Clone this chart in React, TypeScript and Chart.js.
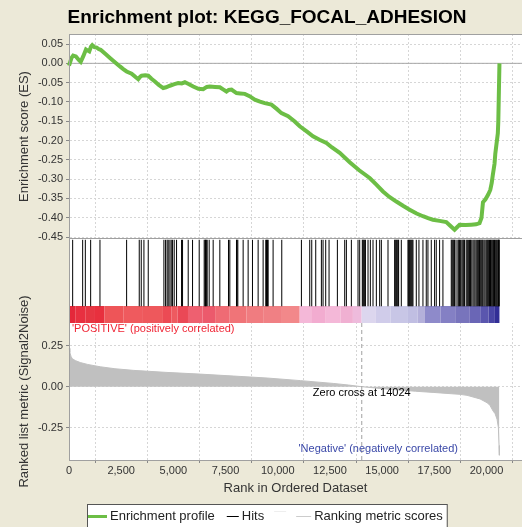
import React, { useEffect, useRef } from "react";
import { Chart, registerables } from "chart.js";

Chart.register(...registerables);

// ---------- data ----------
const TITLE = "Enrichment plot: KEGG_FOCAL_ADHESION";
const X_TITLE = "Rank in Ordered Dataset";
const ES_TITLE = "Enrichment score (ES)";
const METRIC_TITLE = "Ranked list metric (Signal2Noise)";
const POS_LABEL = "'POSITIVE' (positively correlated)";
const NEG_LABEL = "'Negative' (negatively correlated)";
const ZERO_CROSS = 14024;
const ZERO_LABEL = "Zero cross at " + ZERO_CROSS;
const legendLabels = ["Enrichment profile", "Hits", "", "Ranking metric scores"];

const esRanks = [
  0, 60, 120, 200, 330, 480, 560, 680, 813, 900, 970, 1050, 1115, 1220, 1325, 1420, 1516,
  1750, 1962, 2200, 2440, 2600, 2760, 3000, 3200, 3317, 3420, 3478, 3650, 3796, 3950, 4115,
  4300, 4513, 4650, 4833, 5050, 5232, 5400, 5551, 5750, 5950, 6200, 6428, 6600, 6747, 7000,
  7225, 7400, 7545, 7650, 7785, 8024, 8200, 8422, 8650, 8900, 9150, 9379, 9698, 9950, 10177,
  10496, 10800, 11053, 11400, 11690, 12000, 12330, 12600, 12968, 13446, 13900, 14403, 14700,
  15040, 15350, 15680, 16000, 16317, 16650, 16954, 17200, 17432, 17750, 18072, 18250, 18470,
  18600, 18709, 19000, 19268, 19500, 19666, 19760, 19830, 19950, 20080, 20180, 20250, 20300,
  20384, 20420, 20465, 20542, 20565, 20620,
];
const esValues = [
  -0.006, 0.004, 0.014, 0.02, 0.018, 0.008, 0.004, 0.018, 0.036, 0.033, 0.031, 0.043, 0.047,
  0.042, 0.041, 0.037, 0.035, 0.024, 0.014, 0.003, -0.008, -0.015, -0.021, -0.027, -0.036,
  -0.041, -0.034, -0.032, -0.031, -0.032, -0.04, -0.047, -0.056, -0.064, -0.062, -0.058,
  -0.054, -0.051, -0.052, -0.049, -0.054, -0.06, -0.066, -0.067, -0.061, -0.06, -0.061,
  -0.062, -0.068, -0.073, -0.069, -0.068, -0.077, -0.078, -0.079, -0.085, -0.094, -0.099,
  -0.103, -0.107, -0.118, -0.129, -0.137, -0.15, -0.163, -0.177, -0.189, -0.198, -0.206,
  -0.218, -0.232, -0.256, -0.277, -0.297, -0.313, -0.332, -0.346, -0.358, -0.369, -0.379,
  -0.389, -0.396, -0.401, -0.405, -0.408, -0.411, -0.42, -0.431, -0.424, -0.418, -0.419,
  -0.418, -0.417, -0.414, -0.4, -0.36, -0.352, -0.34, -0.328, -0.31, -0.29, -0.26, -0.235,
  -0.215, -0.181, -0.15, 0.0,
];

const hitRanks = [
  175, 654, 782, 1037, 1483, 2760, 3365, 3461, 3589, 3796, 4546, 4626, 4700, 4753, 4833, 4897,
  4961, 5040, 5152, 5391, 5439, 5710, 5918, 6237, 6476, 6520, 6540, 6580, 6619, 6715, 6906,
  7225, 7640, 7704, 8023, 8050, 8087, 8342, 8581, 8789, 9060, 9299, 9426, 9460, 9506, 9540,
  9777, 10192, 11133, 11532, 11628, 11819, 12090, 12170, 12297, 12457, 12856, 13207, 13287,
  13526, 13845, 13925, 14050, 14084, 14120, 14164, 14200, 14324, 14435, 14563, 14723, 14882,
  14962, 15281, 15600, 15630, 15680, 15720, 15760, 15790, 15918, 16237, 16270, 16317, 16350,
  16397, 16440, 16477, 16636, 16763, 16955, 17114, 17194, 17354, 17513, 17593, 17752, 17912,
  18311, 18350, 18390, 18430, 18470, 18540, 18630, 18670, 18709, 18760, 18820, 18869, 18910,
  18949, 19028, 19080, 19130, 19188, 19230, 19268, 19347, 19400, 19450, 19507, 19560, 19610,
  19666, 19700, 19746, 19790, 19826, 19880, 19930, 19986, 20030, 20065, 20105, 20145, 20190,
  20225, 20265, 20304, 20340, 20384, 20420, 20464, 20500, 20543, 20570, 20592, 20610,
];

const metricRanks = [
  0, 40, 100, 153, 300, 536, 900, 1494, 2200, 3074, 4600, 6283, 7900, 9492, 11100, 12653,
  13400, 14024, 15000, 15800, 16600, 17440, 18300, 18730, 19068, 19690, 20050, 20170, 20320,
  20410, 20505, 20568, 20600, 20615,
];
const metricValues = [
  0.235, 0.21, 0.185, 0.172, 0.16, 0.148, 0.136, 0.122, 0.11, 0.1, 0.088, 0.077, 0.065, 0.053,
  0.037, 0.02, 0.01, 0.0, -0.012, -0.02, -0.028, -0.035, -0.043, -0.047, -0.053, -0.075,
  -0.1, -0.116, -0.15, -0.165, -0.2, -0.25, -0.36, -0.42,
];

// colour bar: segment start ranks (last value = end of the bar)
const colorBarRanks = [
  0, 300, 800, 1200, 1700, 2600, 3500, 4500, 4900, 5200, 5700, 6400, 7000, 7700, 8500, 9300,
  10200, 11050, 11600, 12300, 13000, 13600, 14020, 14700, 15400, 16200, 16700, 17050, 17800,
  18500, 19200, 19700, 20100, 20400, 20620,
];
const colorBarColors = [
  "#E4283A", "#E83040", "#E63642", "#E8303E", "#EE5558", "#EF5A5E", "#EE585C", "#EC4A54",
  "#EE5A60", "#EA4856", "#EE6070", "#EC5A6C", "#EF6B74", "#F07478", "#F07C80", "#F08084",
  "#F2888A", "#F4B8D8", "#F2ACD0", "#F4B8D8", "#F0B0D2", "#EEBBDC", "#DCD6EE", "#D0CCEA",
  "#C8C6E6", "#C0BEE2", "#B4B0DA", "#8E8ACA", "#8480C4", "#7874BC", "#6A66B6", "#5A56AE",
  "#4844A4", "#322E96",
];

const X_MAX = 21700;
const X_STEP = 2500;
const ES_MIN = -0.455;
const ES_MAX = 0.076;
const ES_STEP = 0.05;
const METRIC_MIN = -0.449;
const METRIC_MAX = 0.39;
const METRIC_STEP = 0.25;

// ---------- styles ----------
const FONT = "'Liberation Sans', Arial, Helvetica, sans-serif";
const BEIGE = "#ECE9D8";
const GREEN = "#6CBE45";
const GRID = "#D6D6D6";
const AXIS = "#A0A0A0";
const TEXT = "#333333";

const legendSampleColors = [GREEN, "#000000", "#EEEEEE", "#CCCCCC"];
const legendSampleWidths = [19, 12, 12, 15];
const legendSampleLine = [3, 1, 1, 1];
const legendGapsBefore = [1, 12, 10, 10];

const panelPlugin = {
  id: "panels",
  beforeDraw(chart: any) {
    const { ctx, chartArea } = chart;
    ctx.save();
    ctx.fillStyle = BEIGE;
    ctx.fillRect(0, 0, chart.width, chart.height);
    ctx.fillStyle = "#ffffff";
    ctx.fillRect(chartArea.left, chartArea.top, chartArea.right - chartArea.left, chartArea.bottom - chartArea.top);
    ctx.restore();
  },
  beforeDatasetsDraw(chart: any) {
    const { ctx, chartArea } = chart;
    const h = chart.scales.yHits;
    ctx.save();
    ctx.fillStyle = "#ffffff";
    ctx.fillRect(chartArea.left, h.top, chartArea.right - chartArea.left, h.bottom - h.top);
    ctx.restore();
  },
  afterDatasetsDraw(chart: any) {
    const { ctx, chartArea } = chart;
    const x = chart.scales.x;
    const m = chart.scales.yMetric;
    ctx.save();
    ctx.font = "11px " + FONT;
    ctx.textBaseline = "middle";
    ctx.fillStyle = "#F02535";
    ctx.textAlign = "left";
    ctx.fillText(POS_LABEL, x.getPixelForValue(0) + 3, m.top + 6);
    ctx.fillStyle = "#000000";
    ctx.textAlign = "center";
    ctx.fillText(ZERO_LABEL, x.getPixelForValue(ZERO_CROSS), m.getPixelForValue(0) + 6);
    ctx.fillStyle = "#3A48A8";
    ctx.textAlign = "right";
    ctx.fillText(NEG_LABEL, chartArea.right - 64, m.bottom - 11);
    ctx.restore();
  },
  afterDraw(chart: any) {
    const { ctx, chartArea } = chart;
    const es = chart.scales.yES;
    ctx.save();
    ctx.strokeStyle = AXIS;
    ctx.lineWidth = 1;
    ctx.beginPath();
    ctx.moveTo(chartArea.left, es.top + 0.5);
    ctx.lineTo(chartArea.right, es.top + 0.5);
    ctx.moveTo(chartArea.left, es.bottom - 0.5);
    ctx.lineTo(chartArea.right, es.bottom - 0.5);
    ctx.moveTo(chartArea.left + 0.5, chartArea.top);
    ctx.lineTo(chartArea.left + 0.5, chartArea.bottom);
    ctx.stroke();

    // legend
    ctx.font = "13px " + FONT;
    const widths = legendLabels.map((l) => (l ? ctx.measureText(l).width : 0));
    let total = 0;
    legendLabels.forEach((l, i) => {
      total += legendGapsBefore[i] + legendSampleWidths[i] + (l ? 3 + widths[i] : 0);
    });
    total += 4;
    const bx = Math.round(chart.width / 2 + 6 - total / 2);
    const by = 504;
    ctx.fillStyle = "#ffffff";
    ctx.fillRect(bx, by, total, 40);
    ctx.strokeStyle = "#555555";
    ctx.strokeRect(bx + 0.5, by + 0.5, total, 40);
    let cx = bx;
    const cy = by + 12;
    legendLabels.forEach((l, i) => {
      cx += legendGapsBefore[i];
      ctx.strokeStyle = legendSampleColors[i];
      ctx.lineWidth = legendSampleLine[i];
      const ly = l ? cy : cy - 5;
      ctx.beginPath();
      ctx.moveTo(cx, ly + (legendSampleLine[i] % 2 ? 0.5 : 0));
      ctx.lineTo(cx + legendSampleWidths[i], ly + (legendSampleLine[i] % 2 ? 0.5 : 0));
      ctx.stroke();
      cx += legendSampleWidths[i];
      if (l) {
        cx += 3;
        ctx.fillStyle = "#222222";
        ctx.textAlign = "left";
        ctx.textBaseline = "middle";
        ctx.fillText(l, cx, cy);
        cx += widths[i];
      }
    });
    ctx.restore();
  },
};

export default function App() {
  const ref = useRef<HTMLCanvasElement | null>(null);

  useEffect(() => {
    if (!ref.current) return;
    Chart.defaults.font.family = FONT;
    const esData = esRanks.map((r, i) => ({ x: r, y: esValues[i] }));
    const metricData = metricRanks.map((r, i) => ({ x: r, y: metricValues[i] }));
    const hitData = hitRanks.map((r) => ({ x: r, y: [0.2, 0.99] }));
    const barData = colorBarRanks.map((r) => ({ x: r, y: 0.1 }));

    const yTickFont = { size: 11, family: FONT };

    const chart = new Chart(ref.current, {
      type: "line",
      data: {
        datasets: [
          {
            type: "line",
            label: legendLabels[0],
            data: esData,
            yAxisID: "yES",
            borderColor: GREEN,
            borderWidth: 4,
            pointRadius: 0,
            tension: 0,
            fill: false,
          },
          {
            type: "line",
            label: "zero",
            data: [{ x: 0, y: 0 }, { x: X_MAX, y: 0 }],
            yAxisID: "yES",
            borderColor: "#A8A8A8",
            borderWidth: 1,
            pointRadius: 0,
            fill: false,
          },
          {
            type: "bar",
            label: legendLabels[1],
            data: hitData as any,
            yAxisID: "yHits",
            backgroundColor: "#000000",
            borderWidth: 0,
            barThickness: 1,
            grouped: false,
            inflateAmount: 0,
          } as any,
          {
            type: "line",
            label: "colorbar",
            data: barData,
            yAxisID: "yHits",
            borderColor: colorBarColors[0],
            borderWidth: 17,
            borderCapStyle: "butt",
            pointRadius: 0,
            fill: false,
            segment: {
              borderColor: (c: any) => colorBarColors[c.p0DataIndex],
            },
          } as any,
          {
            type: "line",
            label: "zerocross",
            data: [{ x: ZERO_CROSS, y: METRIC_MAX }, { x: ZERO_CROSS, y: METRIC_MIN }],
            yAxisID: "yMetric",
            borderColor: "#A0A0A0",
            borderWidth: 1,
            borderDash: [4, 3],
            pointRadius: 0,
            fill: false,
          },
          {
            type: "line",
            label: legendLabels[3],
            data: metricData,
            yAxisID: "yMetric",
            borderColor: "#C0C0C0",
            backgroundColor: "#C0C0C0",
            borderWidth: 1,
            pointRadius: 0,
            fill: "origin",
          },
        ],
      },
      options: {
        responsive: false,
        animation: false,
        events: [],
        layout: { padding: { left: 12, right: 0, top: 0, bottom: 23 } },
        plugins: {
          legend: { display: false },
          tooltip: { enabled: false },
          title: {
            display: true,
            text: TITLE,
            color: "#000000",
            font: { family: FONT, size: 19, weight: "bold" },
            padding: { top: 6, bottom: 5.2 },
          },
        },
        scales: {
          x: {
            type: "linear",
            max: X_MAX,
            bounds: "data",
            offset: false,
            afterFit: (s: any) => {
              s.height = 44;
            },
            afterBuildTicks: (s: any) => {
              s.ticks = s.ticks.filter((t: any) => t.value % X_STEP === 0);
            },
            ticks: {
              stepSize: X_STEP,
              includeBounds: false,
              color: TEXT,
              font: { size: 11, family: FONT },
              padding: 1,
              maxRotation: 0,
              autoSkip: false,
              callback: (v: any) => Number(v).toLocaleString("en-US"),
            },
            grid: { color: GRID, tickColor: "#888888", tickLength: 3, drawTicks: true },
            border: { color: AXIS, dash: [2, 2] },
            title: {
              display: true,
              text: X_TITLE,
              color: TEXT,
              font: { size: 13, family: FONT },
              padding: { top: 0, bottom: 8 },
            },
          },
          yMetric: {
            type: "linear",
            position: "left",
            stack: "gsea",
            stackWeight: 137,
            min: METRIC_MIN,
            max: METRIC_MAX,
            afterFit: (s: any) => {
              s.width = 57;
            },
            ticks: {
              stepSize: METRIC_STEP,
              includeBounds: false,
              autoSkip: false,
              color: TEXT,
              font: yTickFont,
              padding: 3,
              callback: (v: any) => Number(v).toFixed(2),
            },
            grid: { color: GRID, tickColor: "#888888", tickLength: 3 },
            border: { color: AXIS, dash: [2, 2] },
            title: {
              display: true,
              text: METRIC_TITLE,
              color: TEXT,
              font: { size: 13, family: FONT },
              padding: { top: 5, bottom: 0 },
            },
          },
          yHits: {
            type: "linear",
            position: "left",
            stack: "gsea",
            stackWeight: 84,
            min: 0,
            max: 1,
            afterFit: (s: any) => {
              s.width = 57;
            },
            ticks: { display: false },
            grid: { display: false },
            border: { display: false },
          },
          yES: {
            type: "linear",
            position: "left",
            stack: "gsea",
            stackWeight: 205,
            min: ES_MIN,
            max: ES_MAX,
            afterFit: (s: any) => {
              s.width = 57;
            },
            ticks: {
              stepSize: ES_STEP,
              includeBounds: false,
              autoSkip: false,
              color: TEXT,
              font: yTickFont,
              padding: 3,
              callback: (v: any) => Number(v).toFixed(2),
            },
            grid: { color: GRID, tickColor: "#888888", tickLength: 3 },
            border: { color: AXIS, dash: [2, 2] },
            title: {
              display: true,
              text: ES_TITLE,
              color: TEXT,
              font: { size: 13, family: FONT },
              padding: { top: 5, bottom: 0 },
            },
          },
        },
      } as any,
      plugins: [panelPlugin],
    });
    return () => chart.destroy();
  }, []);

  return (
    <div style={{ position: "absolute", left: 0, top: 0, width: 522, height: 527, overflow: "hidden" }}>
      <canvas ref={ref} width={522} height={527} style={{ display: "block" }} />
    </div>
  );
}
